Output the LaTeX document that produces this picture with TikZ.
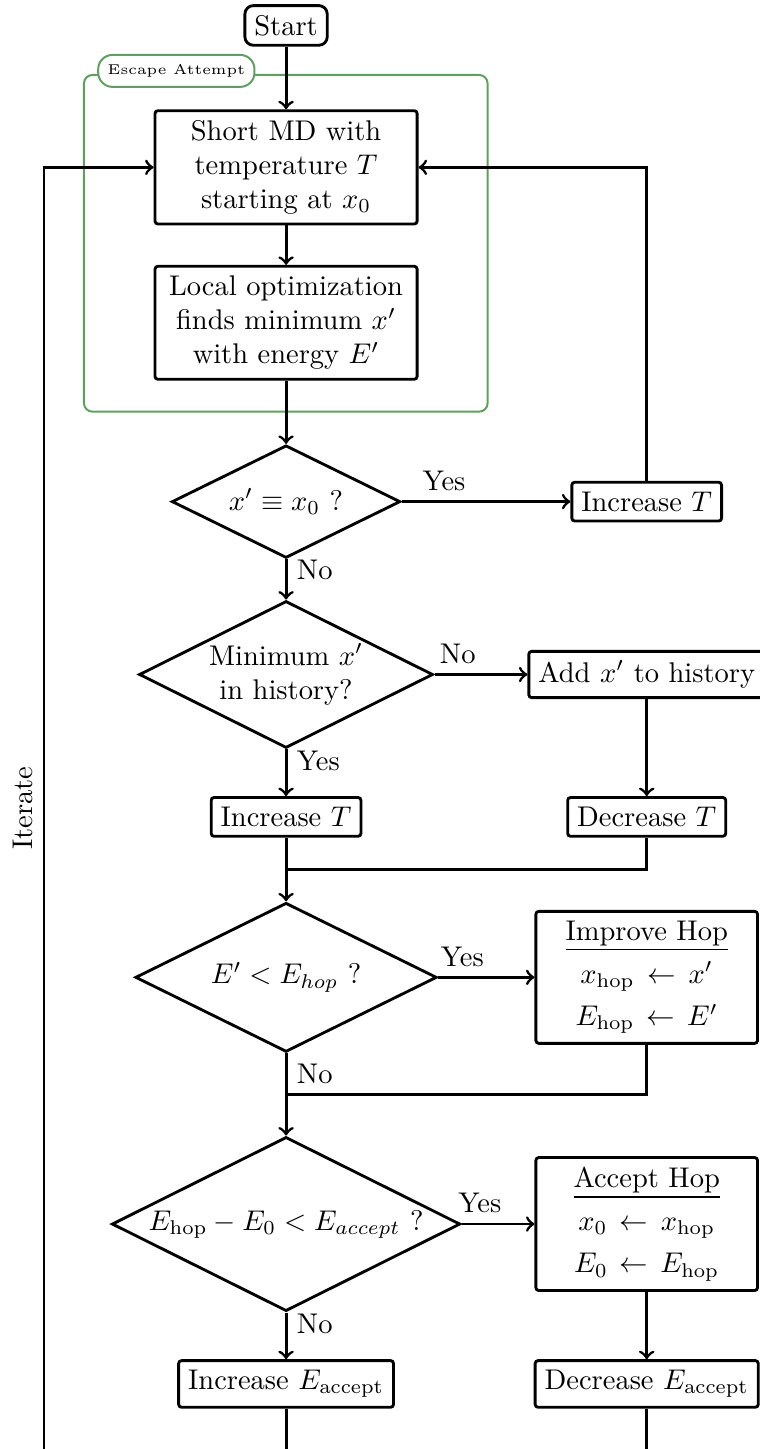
\documentclass[tikz,border=0pt]{standalone}
\usetikzlibrary{shapes.geometric,calc}
\definecolor{framegreen}{RGB}{95,160,95}
\newcommand*{\MainX}{3.53}
\newcommand*{\SideX}{7.98}

\begin{document}
\begin{tikzpicture}[
    box/.style={draw, line width=1pt, rounded corners=1pt, align=center},
    widebox/.style={box, text width=3cm},
    hopbox/.style={box, text width=2.5cm},
    decision/.style={draw, line width=1pt, diamond, aspect=2, inner sep=1pt, align=center},
    arrow/.style={line width=1pt, ->},
    link/.style={line width=1pt}
  ]
  \useasboundingbox (0,0) rectangle (9.378,-17.88);

  % escape attempt frame
  \draw[framegreen, line width=0.7pt, rounded corners=3pt] (1.036,-0.925) rectangle (6.017,-5.08);
  \node[draw=framegreen, line width=0.7pt, fill=white, rounded corners=5pt, font=\tiny]
    (escape) at (2.176,-0.875) {Escape Attempt};

  % main column
  \node[box, rounded corners=3pt] (start) at (\MainX,-0.314) {Start};
  \node[widebox] (md) at (\MainX,-2.065)
    {Short MD with\\ temperature $T$\\ starting at $x_0$};
  \node[widebox] (localopt) at (\MainX,-3.983)
    {Local optimization\\ finds minimum $x'$\\ with energy $E'$};
  \node[decision, minimum width=2.82cm, minimum height=1.39cm] (same) at (\MainX,-6.19)
    {$x' \equiv x_0$ ?};
  \node[decision, minimum width=3.6cm, minimum height=1.78cm] (known) at (\MainX,-8.323)
    {Minimum $x'$\\ in history?};
  \node[box] (incT) at (\MainX,-10.08) {Increase $T$};
  \node[decision, minimum width=3.72cm, minimum height=1.84cm] (better) at (\MainX,-12.06)
    {$E' < E_{hop}$ ?};
  \node[decision, minimum width=4.28cm, minimum height=2.12cm] (acc) at (\MainX,-15.104)
    {$E_{\mathrm{hop}} - E_0 < E_{accept}$ ?};
  \node[box] (incE) at (\MainX,-17.077) {Increase $E_{\mathrm{accept}}$};

  % side column
  \node[box] (escT) at (\SideX,-6.19) {Increase $T$};
  \node[box] (addhist) at (\SideX,-8.323) {Add $x'$ to history};
  \node[box] (decT) at (\SideX,-10.08) {Decrease $T$};
  \node[hopbox] (improve) at (\SideX,-12.06)
    {\underline{Improve Hop}\\[3pt] $x_{\mathrm{hop}} \leftarrow x'$\\[3pt] $E_{\mathrm{hop}} \leftarrow E'$};
  \node[hopbox] (accept) at (\SideX,-15.104)
    {\underline{Accept Hop}\\[3pt] $x_0 \leftarrow x_{\mathrm{hop}}$\\[3pt] $E_0 \leftarrow E_{\mathrm{hop}}$};
  \node[box] (decE) at (\SideX,-17.077) {Decrease $E_{\mathrm{accept}}$};

  \coordinate (bottom) at (0.543,-17.88);
  \coordinate (join1) at ($(incT.south)!.5!(better.north)$);
  \coordinate (join2) at ($(better.south)!.5!(acc.north)$);

  % connectors
  \draw[arrow] (start) -- (md);
  \draw[arrow] (md) -- (localopt);
  \draw[arrow] (localopt) -- (same);
  \draw[arrow] (same) -- node[near start, above] {Yes} (escT);
  \draw[arrow] (escT) |- (md);
  \draw[arrow] (same) -- node[near start, right] {No} (known);
  \draw[arrow] (known) -- node[near start, above] {No} (addhist);
  \draw[arrow] (known) -- node[near start, right] {Yes} (incT);
  \draw[arrow] (addhist) -- (decT);
  \draw[arrow] (incT) -- (better);
  \draw[link] (decT) |- (join1);
  \draw[arrow] (better) -- node[near start, above] {Yes} (improve);
  \draw[arrow] (better) -- node[near start, right] {No} (acc);
  \draw[link] (improve) |- (join2);
  \draw[arrow] (acc) -- node[near start, above] {Yes} (accept);
  \draw[arrow] (acc) -- node[near start, right] {No} (incE);
  \draw[arrow] (accept) -- (decE);
  \draw[link] (incE) -- (incE |- bottom);
  \draw[link] (decE) -- (decE |- bottom);
  \draw[arrow] (bottom) -- node[midway, sloped, above] {Iterate} (bottom |- md) -- (md);
\end{tikzpicture}
\end{document}
